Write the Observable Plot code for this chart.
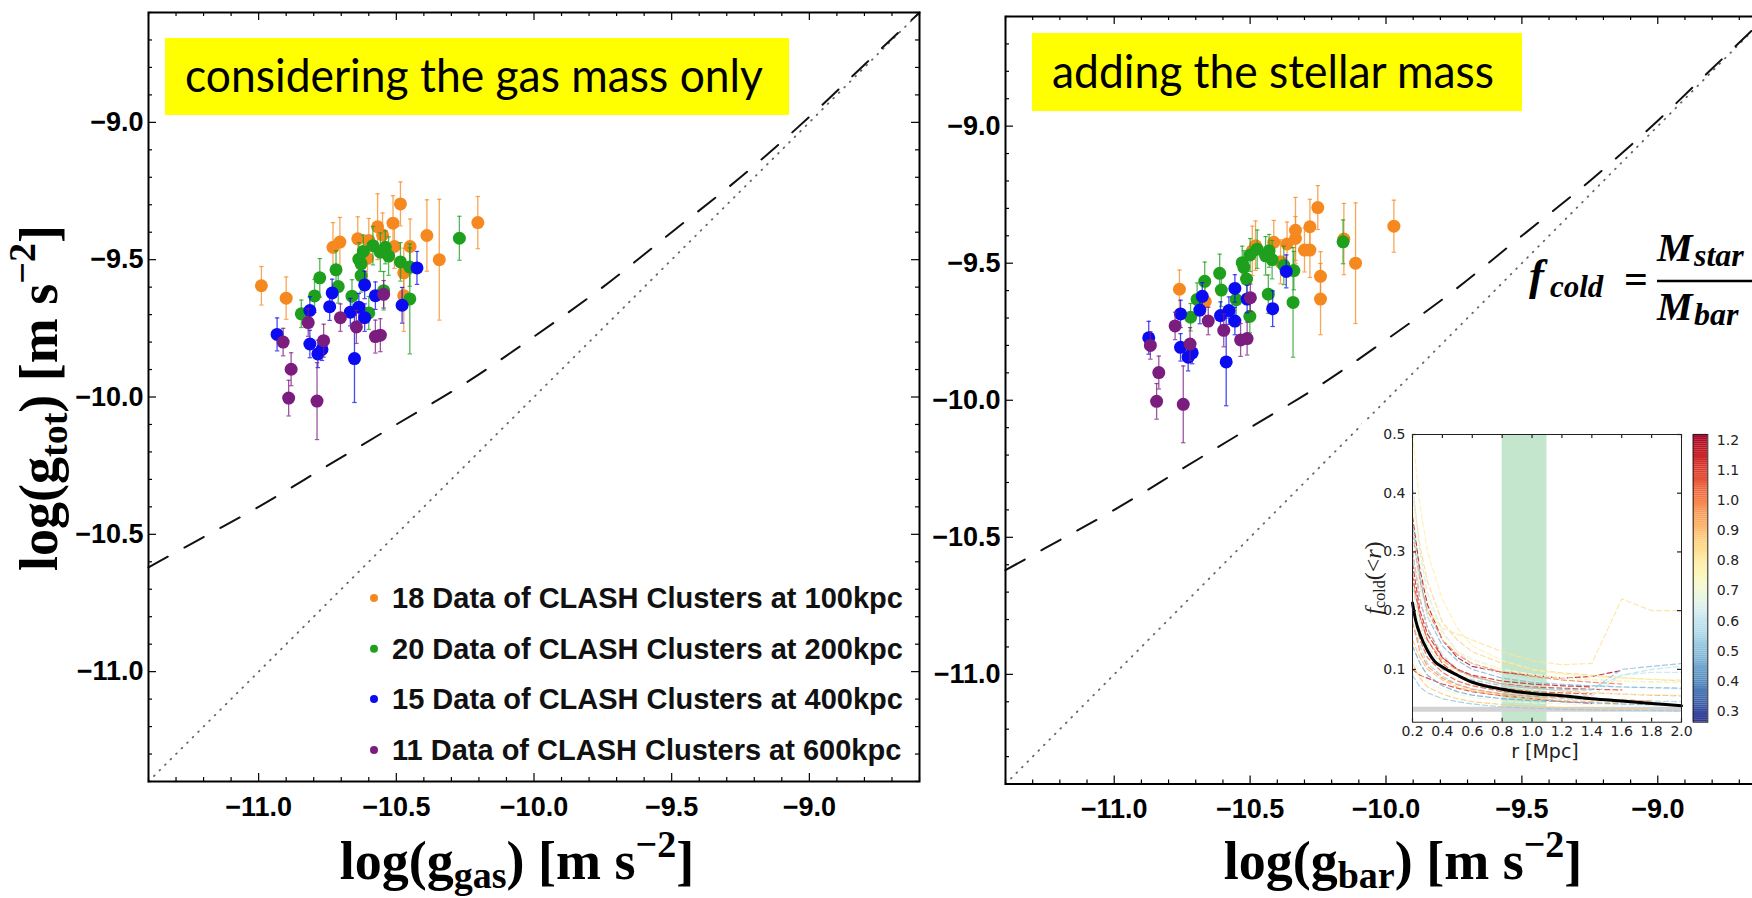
<!DOCTYPE html>
<html>
<head>
<meta charset="utf-8">
<script src="https://cdn.jsdelivr.net/npm/d3@7"></script>
<script src="https://cdn.jsdelivr.net/npm/@observablehq/plot@0.6"></script>
<style>
  html, body { margin: 0; padding: 0; background: #fff; }
  #figure { position: relative; width: 1752px; height: 898px; overflow: hidden; background: #fff; }
</style>
</head>
<body>
<div id="figure"></div>
<script>
// ---------------- cluster data: log accelerations [m s^-2] ----------------
const seriesNames = ["100kpc", "200kpc", "400kpc", "600kpc"];
const seriesColors = ["#f5891f", "#1e9f1e", "#0b0bf2", "#7b1c7f"];

// 100 kpc
const gas100 = [-10.99, -10.90, -10.73, -10.705, -10.64, -10.60, -10.605, -10.568, -10.512, -10.485, -10.507, -10.473, -10.473, -10.389, -10.344, -10.204, -10.55, -10.45];
const bar100 = [-10.76, -10.665, -10.492, -10.48, -10.413, -10.364, -10.388, -10.333, -10.28, -10.251, -10.30, -10.241, -10.241, -10.155, -10.112, -9.971, -10.333, -10.28];
const tot100 = [-9.595, -9.64, -9.455, -9.436, -9.424, -9.43, -9.495, -9.38, -9.367, -9.297, -9.452, -9.548, -9.631, -9.412, -9.50, -9.365, -9.41, -9.452];
const err100 = [0.07, 0.077, 0.09, 0.09, 0.08, 0.08, 0.08, 0.12, 0.10, 0.08, 0.08, 0.09, 0.13, 0.13, 0.22, 0.095, 0.08, 0.10];

// 200 kpc
const gas200 = [-10.845, -10.797, -10.778, -10.719, -10.711, -10.636, -10.628, -10.628, -10.661, -10.60, -10.585, -10.558, -10.54, -10.528, -10.485, -10.451, -10.451, -10.271, -10.546, -10.62];
const bar200 = [-10.719, -10.695, -10.667, -10.612, -10.606, -10.529, -10.523, -10.513, -10.551, -10.501, -10.474, -10.443, -10.43, -10.419, -10.376, -10.339, -10.342, -10.158, -10.433, -10.50];
const tot200 = [-9.697, -9.632, -9.566, -9.537, -9.598, -9.498, -9.515, -9.558, -9.633, -9.694, -9.449, -9.473, -9.455, -9.487, -9.508, -9.527, -9.643, -9.422, -9.613, -9.47];
const err200 = [0.05, 0.06, 0.07, 0.07, 0.06, 0.06, 0.06, 0.06, 0.06, 0.06, 0.07, 0.07, 0.06, 0.07, 0.07, 0.07, 0.20, 0.08, 0.07, 0.06];

// 400 kpc
const gas400 = [-10.933, -10.814, -10.814, -10.785, -10.77, -10.742, -10.733, -10.667, -10.636, -10.615, -10.615, -10.652, -10.576, -10.479, -10.425];
const bar400 = [-10.873, -10.756, -10.756, -10.728, -10.713, -10.685, -10.676, -10.609, -10.578, -10.556, -10.556, -10.588, -10.511, -10.417, -10.367];
const tot400 = [-9.772, -9.685, -9.807, -9.843, -9.827, -9.671, -9.621, -9.691, -9.673, -9.711, -9.592, -9.86, -9.631, -9.666, -9.53];
const err400 = [0.06, 0.05, 0.05, 0.05, 0.04, 0.05, 0.05, 0.05, 0.05, 0.05, 0.05, 0.16, 0.05, 0.065, 0.06];

// 600 kpc
const gas600 = [-10.911, -10.882, -10.891, -10.788, -10.82, -10.764, -10.703, -10.645, -10.576, -10.558, -10.546];
const bar600 = [-10.867, -10.836, -10.844, -10.746, -10.776, -10.721, -10.654, -10.597, -10.535, -10.511, -10.499];
const tot600 = [-9.80, -9.899, -10.004, -10.015, -9.729, -9.795, -9.711, -9.745, -9.78, -9.775, -9.626];
const err600 = [0.05, 0.06, 0.065, 0.14, 0.05, 0.06, 0.05, 0.06, 0.06, 0.06, 0.05];

// dashed relation and the 1:1 line
const rarX = [-11.4, -11.2, -11.0, -10.75, -10.5, -10.25, -10.0, -9.75, -9.5, -9.25, -9.0, -8.8, -8.6];
const rarY = [-10.62, -10.51, -10.40, -10.25, -10.10, -9.95, -9.78, -9.60, -9.40, -9.20, -8.98, -8.79, -8.60];
const unityLine = [-11.4, -8.6];

const axisDomain = [-11.4, -8.6];
const majorTicks = [-11, -10.5, -10, -9.5, -9];

// ---------------- inset: cold fraction profiles ----------------
const fcRadius = [0.2, 0.25, 0.3, 0.4, 0.5, 0.6, 0.8, 1.0, 1.2, 1.4, 1.6, 1.8, 2.0];
const fcColorValue = [1.18, 1.10, 1.05, 1.12, 1.00, 0.95, 0.90, 0.85, 0.82, 0.78, 0.72, 0.70, 0.62,
                      0.58, 0.55, 0.52, 0.48, 0.45, 1.08, 0.97, 0.66, 0.60, 1.15, 0.88, 0.50, 0.75];
const fcValues = [
  [0.36, 0.27, 0.21, 0.15, 0.12, 0.105, 0.095, 0.09, 0.085, 0.088, 0.098],
  [0.30, 0.22, 0.17, 0.12, 0.10, 0.088, 0.075, 0.07, 0.068, 0.066, 0.065],
  [0.20, 0.15, 0.12, 0.095, 0.08, 0.072, 0.062, 0.058, 0.055, 0.052],
  [0.10, 0.09, 0.085, 0.075, 0.068, 0.062, 0.055, 0.05, 0.045, 0.042],
  [0.33, 0.25, 0.20, 0.15, 0.125, 0.11, 0.095, 0.088, 0.082, 0.078, 0.075],
  [0.25, 0.19, 0.15, 0.115, 0.098, 0.088, 0.075, 0.068, 0.063, 0.06, 0.058, 0.056, 0.055],
  [0.15, 0.12, 0.10, 0.082, 0.07, 0.063, 0.055, 0.05, 0.047, 0.045, 0.043],
  [0.40, 0.31, 0.25, 0.18, 0.15, 0.13, 0.11, 0.10, 0.094, 0.09, 0.086, 0.083, 0.08],
  [0.28, 0.24, 0.20, 0.17, 0.16, 0.15, 0.13, 0.115, 0.108, 0.11, 0.22, 0.20, 0.20],
  [0.50, 0.38, 0.30, 0.22, 0.17, 0.14, 0.115, 0.10, 0.092, 0.088, 0.085, 0.083, 0.082],
  [0.22, 0.17, 0.14, 0.11, 0.095, 0.085, 0.072, 0.066, 0.062, 0.06, 0.058, 0.057, 0.056],
  [0.12, 0.095, 0.08, 0.066, 0.058, 0.052, 0.046, 0.043, 0.041, 0.04, 0.039, 0.038, 0.038],
  [0.42, 0.30, 0.23, 0.165, 0.13, 0.11, 0.09, 0.08, 0.075, 0.072, 0.07, 0.068, 0.067],
  [0.30, 0.22, 0.17, 0.125, 0.10, 0.088, 0.074, 0.068, 0.064, 0.066, 0.09, 0.10, 0.105],
  [0.18, 0.14, 0.11, 0.088, 0.075, 0.067, 0.058, 0.053, 0.05, 0.048, 0.047, 0.046, 0.045],
  [0.09, 0.07, 0.06, 0.05, 0.045, 0.041, 0.036, 0.034, 0.032, 0.031, 0.03, 0.03, 0.029],
  [0.35, 0.26, 0.19, 0.14, 0.115, 0.10, 0.085, 0.078, 0.074, 0.072, 0.07, 0.069, 0.068],
  [0.14, 0.11, 0.09, 0.072, 0.062, 0.056, 0.05, 0.047, 0.045, 0.043, 0.041, 0.04, 0.04],
  [0.26, 0.19, 0.15, 0.11, 0.09, 0.078, 0.068, 0.062, 0.06, 0.058],
  [0.18, 0.13, 0.105, 0.085, 0.074, 0.066, 0.058, 0.054, 0.052, 0.05, 0.048, 0.046],
  [0.32, 0.24, 0.19, 0.15, 0.13, 0.118, 0.10, 0.09, 0.085, 0.082, 0.08, 0.079, 0.078],
  [0.24, 0.18, 0.14, 0.105, 0.088, 0.078, 0.066, 0.06, 0.057, 0.055, 0.09, 0.095, 0.095],
  [0.28, 0.20, 0.16, 0.12, 0.10, 0.09, 0.08, 0.075, 0.072, 0.07],
  [0.11, 0.085, 0.07, 0.058, 0.05, 0.045, 0.04, 0.037, 0.035, 0.034, 0.033, 0.032],
  [0.20, 0.16, 0.13, 0.10, 0.09, 0.082, 0.072, 0.068, 0.066, 0.065, 0.10, 0.105, 0.11],
  [0.38, 0.28, 0.22, 0.16, 0.13, 0.115, 0.10, 0.092, 0.086, 0.083, 0.08, 0.078, 0.077]
];
const fcMedianR = [0.2, 0.22, 0.25, 0.3, 0.35, 0.4, 0.5, 0.6, 0.7, 0.8, 0.9, 1.0, 1.2, 1.4, 1.6, 1.8, 2.0];
const fcMedian  = [0.213, 0.185, 0.16, 0.132, 0.113, 0.104, 0.09, 0.078, 0.071, 0.066, 0.062, 0.059, 0.055, 0.05, 0.046, 0.042, 0.038];
const fcBand = [0.8, 1.1];
const fcFloor = [0.032];
const fcRTicks = [0.2, 0.4, 0.6, 0.8, 1.0, 1.2, 1.4, 1.6, 1.8, 2.0];
const fcYTicks = [0.1, 0.2, 0.3, 0.4, 0.5];
const fcColorDomain = [0.264, 1.22];
const fcColorTicks = [0.3, 0.4, 0.5, 0.6, 0.7, 0.8, 0.9, 1.0, 1.1, 1.2];

// ---------------- tables ----------------
const clusterSets = [
  {series: "100kpc", gas: gas100, bar: bar100, tot: tot100, err: err100},
  {series: "200kpc", gas: gas200, bar: bar200, tot: tot200, err: err200},
  {series: "400kpc", gas: gas400, bar: bar400, tot: tot400, err: err400},
  {series: "600kpc", gas: gas600, bar: bar600, tot: tot600, err: err600}
];
const clusterRows = clusterSets.flatMap(s => s.tot.map((tot, i) => ({
  series: s.series, gas: s.gas[i], bar: s.bar[i], tot, err: s.err[i]
})));
const rarRows = rarX.map((x, i) => ({x, y: rarY[i]}));
const fcRows = fcValues.flatMap((vals, id) => vals.map((f, i) => ({id, r: fcRadius[i], f, c: fcColorValue[id]})));
const fcMedianRows = fcMedianR.map((r, i) => ({r, f: fcMedian[i]}));

// horizontal cap for the error bars
const capSymbol = {
  draw(context, size) {
    const w = Math.sqrt(size / Math.PI);
    context.moveTo(-w, 0);
    context.lineTo(w, 0);
  }
};

const fmt1 = d3.format(".1f");
const minorTicks = d3.ticks(-11.4, -8.6, 28).filter(t => !majorTicks.some(m => Math.abs(m - t) < 1e-9));

// inward frame ticks on all four sides
function frameTicks(xMajor, xMinor, yMajor, yMinor, fw, fh, big, small, stroke) {
  const s = {stroke, strokeWidth: 1.2};
  return [
    Plot.ruleX(xMajor, {x: d => d, insetTop: fh - big, ...s}),
    Plot.ruleX(xMajor, {x: d => d, insetBottom: fh - big, ...s}),
    Plot.ruleX(xMinor, {x: d => d, insetTop: fh - small, ...s}),
    Plot.ruleX(xMinor, {x: d => d, insetBottom: fh - small, ...s}),
    Plot.ruleY(yMajor, {y: d => d, insetRight: fw - big, ...s}),
    Plot.ruleY(yMajor, {y: d => d, insetLeft: fw - big, ...s}),
    Plot.ruleY(yMinor, {y: d => d, insetRight: fw - small, ...s}),
    Plot.ruleY(yMinor, {y: d => d, insetLeft: fw - small, ...s})
  ];
}

function scatterPanel(key, o) {
  const fw = o.width - o.marginLeft - o.marginRight;
  const fh = o.height - o.marginTop - o.marginBottom;
  const marks = [
    Plot.line(unityLine, {x: d => d, y: d => d, stroke: "#666", strokeWidth: 1.8,
      strokeDasharray: "0.8,7", strokeLinecap: "round"}),
    Plot.line(rarRows, {x: "x", y: "y", stroke: "#111", strokeWidth: 2,
      strokeDasharray: "22,19", curve: "monotone-x"})
  ];
  for (const name of seriesNames) {
    const rows = clusterRows.filter(d => d.series === name);
    marks.push(
      Plot.ruleX(rows, {x: key, y1: d => d.tot - d.err, y2: d => d.tot + d.err,
        stroke: "series", strokeWidth: 1.3, strokeOpacity: 0.75}),
      Plot.dot(rows, {x: key, y: d => d.tot + d.err, symbol: capSymbol, r: 2.2,
        fill: "none", stroke: "series", strokeWidth: 1.2, strokeOpacity: 0.75}),
      Plot.dot(rows, {x: key, y: d => d.tot - d.err, symbol: capSymbol, r: 2.2,
        fill: "none", stroke: "series", strokeWidth: 1.2, strokeOpacity: 0.75}),
      Plot.dot(rows, {x: key, y: "tot", r: 6.5, fill: "series"})
    );
  }
  marks.push(
    ...frameTicks(majorTicks, minorTicks, majorTicks, minorTicks, fw, fh, 8, 4, "black"),
    Plot.axisX({ticks: majorTicks, tickSize: 0, tickPadding: 15, tickFormat: fmt1}),
    Plot.axisY({ticks: majorTicks, tickSize: 0, tickPadding: 5, tickFormat: fmt1}),
    Plot.frame({stroke: "black", strokeWidth: 2})
  );
  return Plot.plot({
    ...o,
    style: {background: "transparent", fontFamily: "'Liberation Sans', Arial, sans-serif",
      fontSize: "27px", fontWeight: "bold", color: "black"},
    x: {domain: axisDomain, label: null},
    y: {domain: axisDomain, label: null},
    color: {domain: seriesNames, range: seriesColors},
    marks
  });
}

const fig = document.getElementById("figure");
function place(node, left, top) {
  node.style.position = "absolute";
  node.style.left = left + "px";
  node.style.top = top + "px";
  node.style.maxWidth = "none";
  fig.appendChild(node);
  return node;
}

// left panel: gas only
place(scatterPanel("gas", {width: 930, height: 830, marginLeft: 148, marginRight: 11, marginTop: 12, marginBottom: 49}), 0, 0);
// right panel: gas + stars
place(scatterPanel("bar", {width: 920, height: 830, marginLeft: 148, marginRight: 11, marginTop: 16, marginBottom: 46.5}), 857, 0);

// white backing for the inset figure
const back = document.createElement("div");
Object.assign(back.style, {background: "#fff", width: "390px", height: "350px"});
place(back, 1362, 420);

// inset: f_cold(<r) profiles
{
  const o = {width: 340, height: 350, marginLeft: 50, marginRight: 21, marginTop: 14, marginBottom: 48.3};
  const fw = o.width - o.marginLeft - o.marginRight;
  const fh = o.height - o.marginTop - o.marginBottom;
  const inset = Plot.plot({
    ...o,
    style: {background: "transparent", fontFamily: "'DejaVu Sans', sans-serif", fontSize: "14px", color: "#222"},
    x: {domain: [0.2, 2.0], label: null},
    y: {domain: [0.01, 0.5], label: null},
    color: {type: "linear", scheme: "rdylbu", reverse: true, domain: fcColorDomain},
    marks: [
      Plot.rect([fcBand], {x1: d => d[0], x2: d => d[1], fill: "#c3e6cd"}),
      Plot.ruleY(fcFloor, {stroke: "#d2d2d2", strokeWidth: 5}),
      Plot.line(fcRows, {x: "r", y: "f", z: "id", stroke: "c", strokeWidth: 1.2,
        strokeDasharray: "5,3", strokeOpacity: 0.85}),
      Plot.line(fcMedianRows, {x: "r", y: "f", stroke: "black", strokeWidth: 3, curve: "monotone-x"}),
      ...frameTicks(fcRTicks, [], fcYTicks, [], fw, fh, 4, 2, "#222"),
      Plot.axisX({ticks: fcRTicks, tickSize: 0, tickPadding: 4, tickFormat: fmt1}),
      Plot.axisY({ticks: fcYTicks, tickSize: 0, tickPadding: 7, tickFormat: fmt1}),
      Plot.frame({stroke: "#222", strokeWidth: 1})
    ]
  });
  place(inset, 1362, 420);

  // colour bar
  const step = (fcColorDomain[1] - fcColorDomain[0]) / 150;
  const bins = d3.range(150).map(i => fcColorDomain[0] + i * step);
  const bar = Plot.plot({
    width: 62, height: 350, marginLeft: 2.7, marginRight: 44.7, marginTop: 14, marginBottom: 48.3,
    style: {background: "transparent", fontFamily: "'DejaVu Sans', sans-serif", fontSize: "14px", color: "#222"},
    y: {domain: fcColorDomain, label: null},
    color: {type: "linear", scheme: "rdylbu", reverse: true, domain: fcColorDomain},
    marks: [
      Plot.rect(bins, {y1: d => d, y2: d => d + step * 1.05, fill: d => d + step / 2}),
      Plot.axisY({anchor: "right", ticks: fcColorTicks, tickSize: 0, tickPadding: 9, tickFormat: fmt1}),
      Plot.frame({stroke: "#222", strokeWidth: 1})
    ]
  });
  place(bar, 1690, 420);
}

// ---------------- titles, labels and legend ----------------
const legendLabels = clusterSets.map(s => `${s.tot.length} Data of CLASH Clusters at ${s.series}`);
const legendRows = [598, 648.7, 699, 750];

const overlay = `
<svg xmlns="http://www.w3.org/2000/svg" width="1752" height="898" style="position:absolute;left:0;top:0;pointer-events:none">
  <g>
    <rect x="165" y="38" width="624" height="77" fill="#ffff00"/>
    <text x="185" y="92" font-family="Lato, 'Open Sans', sans-serif" font-size="46" fill="#000"
      textLength="578" lengthAdjust="spacingAndGlyphs">considering the gas mass only</text>
    <rect x="1032" y="33" width="490" height="78" fill="#ffff00"/>
    <text x="1052" y="88" font-family="Lato, 'Open Sans', sans-serif" font-size="46" fill="#000"
      textLength="442" lengthAdjust="spacingAndGlyphs">adding the stellar mass</text>
  </g>
  <g font-family="'Liberation Sans', Arial, sans-serif" font-weight="bold" font-size="29" fill="#111">
    ${legendLabels.map((t, i) => `
      <circle cx="374" cy="${legendRows[i]}" r="4" fill="${seriesColors[i]}"/>
      <text x="392" y="${legendRows[i]}" dominant-baseline="central">${t}</text>`).join("")}
  </g>
  <g font-family="'Liberation Serif', 'Times New Roman', serif" font-weight="bold" fill="#000">
    <text transform="translate(57,398) rotate(-90)" text-anchor="middle" font-size="54">log(g<tspan font-size="38" dy="10">tot</tspan><tspan dy="-10">) [m s</tspan><tspan font-size="38" dy="-22">−2</tspan><tspan dy="22">]</tspan></text>
    <text x="517" y="879" text-anchor="middle" font-size="54">log(g<tspan font-size="38" dy="9">gas</tspan><tspan dy="-9">) [m s</tspan><tspan font-size="38" dy="-22">−2</tspan><tspan dy="22">]</tspan></text>
    <text x="1403" y="879" text-anchor="middle" font-size="54">log(g<tspan font-size="38" dy="9">bar</tspan><tspan dy="-9">) [m s</tspan><tspan font-size="38" dy="-22">−2</tspan><tspan dy="22">]</tspan></text>
  </g>
  <g font-family="'Liberation Serif', 'Times New Roman', serif" font-weight="bold" font-style="italic" fill="#000">
    <text x="1529" y="290" font-size="45">f</text>
    <text x="1550" y="297" font-size="31">cold</text>
    <text x="1624" y="293" font-size="42" font-style="normal">=</text>
    <line x1="1657" x2="1760" y1="281" y2="281" stroke="#000" stroke-width="2.5"/>
    <text x="1657" y="261" font-size="40">M</text>
    <text x="1694" y="266" font-size="32">star</text>
    <text x="1657" y="320" font-size="40">M</text>
    <text x="1694" y="325" font-size="32">bar</text>
  </g>
  <g fill="#222">
    <text x="1545" y="758" text-anchor="middle" font-family="'DejaVu Sans', sans-serif" font-size="19">r [Mpc]</text>
    <text transform="translate(1381,578) rotate(-90)" text-anchor="middle" font-family="'Liberation Serif', serif" font-size="24"><tspan font-style="italic">f</tspan><tspan font-size="16" dy="4">cold</tspan><tspan dy="-4">(&lt;</tspan><tspan font-style="italic">r</tspan>)</text>
  </g>
</svg>`;
fig.insertAdjacentHTML("beforeend", overlay);
</script>
</body>
</html>
